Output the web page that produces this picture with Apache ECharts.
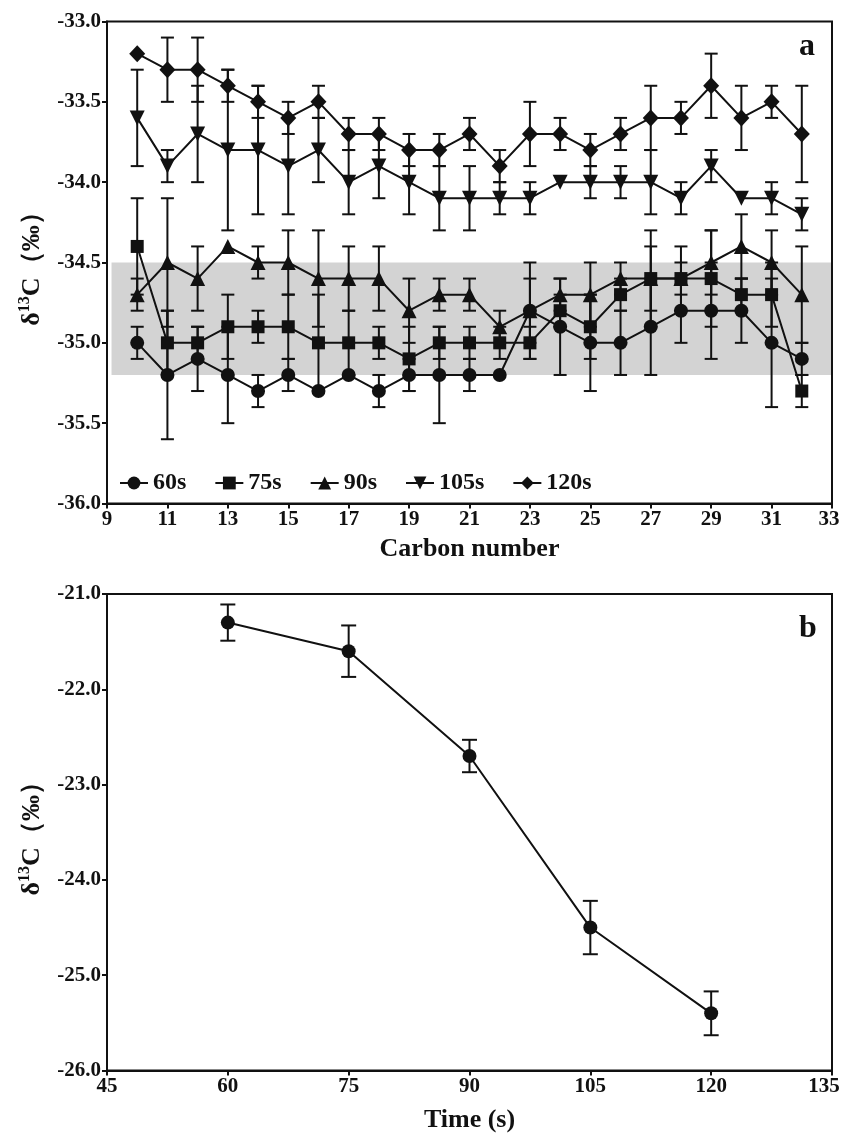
<!DOCTYPE html>
<html><head><meta charset="utf-8">
<script src="https://cdn.jsdelivr.net/npm/echarts@6/dist/echarts.min.js"></script>
<style>html,body{margin:0;padding:0;background:#fff}#c{width:842px;height:1136px}</style>
</head><body><div id="c"></div>
<script>
// ---------- Data: panel a ----------
const carbon = [10,11,12,13,14,15,16,17,18,19,20,21,22,23,24,25,26,27,28,29,30,31,32];
const v60  = [-35.0,-35.2,-35.1,-35.2,-35.3,-35.2,-35.3,-35.2,-35.3,-35.2,-35.2,-35.2,-35.2,-34.8,-34.9,-35.0,-35.0,-34.9,-34.8,-34.8,-34.8,-35.0,-35.1];
const e60  = [0.1,0.4,0.2,0.3,0.1,0.1,0,0,0.1,0.1,0.3,0.1,0,0.3,0.3,0.3,0.2,0.3,0.2,0.3,0.2,0.4,0.1];
const v75  = [-34.4,-35.0,-35.0,-34.9,-34.9,-34.9,-35.0,-35.0,-35.0,-35.1,-35.0,-35.0,-35.0,-35.0,-34.8,-34.9,-34.7,-34.6,-34.6,-34.6,-34.7,-34.7,-35.3];
const e75  = [0.3,0.2,0.1,0.2,0.1,0.2,0.3,0.2,0.1,0.2,0.1,0.1,0.1,0.1,0.1,0.2,0.1,0.3,0.1,0.3,0.1,0.2,0.1];
const v90  = [-34.7,-34.5,-34.6,-34.4,-34.5,-34.5,-34.6,-34.6,-34.6,-34.8,-34.7,-34.7,-34.9,-34.8,-34.7,-34.7,-34.6,-34.6,-34.6,-34.5,-34.4,-34.5,-34.7];
const e90  = [0.1,0.4,0.2,0,0.1,0.2,0.3,0.2,0.2,0.2,0.1,0.1,0.1,0.2,0.1,0.2,0.1,0.2,0.2,0.2,0.2,0.2,0.3];
const v105 = [-33.6,-33.9,-33.7,-33.8,-33.8,-33.9,-33.8,-34.0,-33.9,-34.0,-34.1,-34.1,-34.1,-34.1,-34.0,-34.0,-34.0,-34.0,-34.1,-33.9,-34.1,-34.1,-34.2];
const e105 = [0.3,0.1,0.3,0.5,0.4,0.3,0.2,0.2,0.2,0.2,0.2,0.2,0.1,0.1,0,0.1,0.1,0.2,0.1,0.1,0,0.1,0.1];
const v120 = [-33.2,-33.3,-33.3,-33.4,-33.5,-33.6,-33.5,-33.7,-33.7,-33.8,-33.8,-33.7,-33.9,-33.7,-33.7,-33.8,-33.7,-33.6,-33.6,-33.4,-33.6,-33.5,-33.7];
const e120 = [0,0.2,0.2,0.1,0.1,0.1,0.1,0.1,0.1,0.1,0.1,0.1,0.1,0.2,0.1,0.1,0.1,0.2,0.1,0.2,0.2,0.1,0.3];
const seriesNames = ['60s','75s','90s','105s','120s'];
const bandRange = [-34.5, -35.2];
// ---------- Data: panel b ----------
const times = [60,75,90,105,120];
const vTime = [-21.3,-21.6,-22.7,-24.5,-25.4];
const eTime = [0.19,0.27,0.17,0.28,0.23];

const FONT = '"Liberation Serif", "Times New Roman", serif';
const INK = '#111';

function pts(xs, vs){ return xs.map((x,i)=>[x, vs[i]]); }
function errs(xs, vs, es){ return xs.map((x,i)=>[x, vs[i]-es[i], vs[i]+es[i]]); }
function errRender(capW){
  return function(params, api){
    const x = api.value(0), lo = api.value(1), hi = api.value(2);
    if (hi - lo < 1e-9) return null;
    const a = api.coord([x, hi]), b = api.coord([x, lo]);
    const st = {stroke: INK, lineWidth: 2};
    return {type:'group', children:[
      {type:'line', shape:{x1:a[0],y1:a[1],x2:b[0],y2:b[1]}, style:st},
      {type:'line', shape:{x1:a[0]-capW/2,y1:a[1],x2:a[0]+capW/2,y2:a[1]}, style:st},
      {type:'line', shape:{x1:b[0]-capW/2,y1:b[1],x2:b[0]+capW/2,y2:b[1]}, style:st}
    ]};
  };
}

const labelBase = {color:INK, fontFamily:FONT, fontWeight:'bold', fontSize:21, margin:6};
const axisCommon = {
  axisLine:{show:true, lineStyle:{color:INK, width:2}},
  axisTick:{show:true, inside:false, length:5, lineStyle:{color:INK, width:2}},
  axisLabel:labelBase,
  splitLine:{show:false},
  z:5
};
function xLabel(maxV, shift){
  return Object.assign({}, labelBase, {
    formatter: v => (v === maxV ? '{m|' + v + '}' : String(v)),
    rich:{m:{fontFamily:FONT, fontWeight:'bold', fontSize:21, color:INK, padding:[0,shift,0,0]}}
  });
}
const yName = '{d|δ}{s|13}{d|C（‰）}';
const yNameStyle = {
  rich:{
    d:{fontFamily:FONT, fontWeight:'bold', fontSize:26, color:INK},
    s:{fontFamily:FONT, fontWeight:'bold', fontSize:16, color:INK, padding:[0,0,14,0]}
  }
};

const symbols = [
  {symbol:'circle', size:14, rotate:0},
  {symbol:'rect', size:13, rotate:0},
  {symbol:'triangle', size:15, rotate:0},
  {symbol:'triangle', size:15, rotate:180},
  {symbol:'diamond', size:[16,17], rotate:0}
];
const vals = [v60, v75, v90, v105, v120];
const errsA = [e60, e75, e90, e105, e120];

const series = [];
// shaded band
series.push({
  type:'line', xAxisIndex:0, yAxisIndex:0, data:[], silent:true, z:1,
  markArea:{silent:true, itemStyle:{color:'#d3d3d3'},
    data:[[{xAxis:9.15, yAxis:bandRange[0]},{xAxis:33, yAxis:bandRange[1]}]]}
});
vals.forEach((v,i)=>{
  series.push({
    type:'custom', xAxisIndex:0, yAxisIndex:0, z:3, silent:true,
    renderItem: errRender(13), encode:{x:0, y:[1,2]},
    data: errs(carbon, v, errsA[i])
  });
});
vals.forEach((v,i)=>{
  series.push({
    name: seriesNames[i], type:'line', xAxisIndex:0, yAxisIndex:0, z:4,
    data: pts(carbon, v),
    symbol: symbols[i].symbol, symbolSize: symbols[i].size, symbolRotate: symbols[i].rotate,
    showAllSymbol:true,
    lineStyle:{color:INK, width:2}, itemStyle:{color:INK},
    emphasis:{disabled:true}
  });
});
// panel b
series.push({
  type:'custom', xAxisIndex:1, yAxisIndex:1, z:3, silent:true,
  renderItem: errRender(15), encode:{x:0, y:[1,2]},
  data: errs(times, vTime, eTime)
});
series.push({
  name:'b', type:'line', xAxisIndex:1, yAxisIndex:1, z:4,
  data: pts(times, vTime), symbol:'circle', symbolSize:14,
  lineStyle:{color:INK, width:2}, itemStyle:{color:INK},
  emphasis:{disabled:true}
});

const option = {
  animation:false,
  backgroundColor:'#fff',
  grid:[
    {left:107, top:21.5, width:725, height:482, show:true, borderColor:INK, borderWidth:2, backgroundColor:'transparent', z:6, containLabel:false, outerBoundsMode:'none'},
    {left:107, top:594, width:725, height:476.5, show:true, borderColor:INK, borderWidth:2, backgroundColor:'transparent', z:6, containLabel:false, outerBoundsMode:'none'}
  ],
  xAxis:[
    Object.assign({}, axisCommon, {type:'value', gridIndex:0, min:9, max:33, interval:2,
      axisLabel: xLabel(33, 6),
      name:'Carbon number', nameLocation:'middle', nameGap:33,
      nameTextStyle:{fontFamily:FONT, fontWeight:'bold', fontSize:26, color:INK}}),
    Object.assign({}, axisCommon, {type:'value', gridIndex:1, min:45, max:135, interval:15,
      axisLabel: xLabel(135, 16),
      name:'Time (s)', nameLocation:'middle', nameGap:37,
      nameTextStyle:{fontFamily:FONT, fontWeight:'bold', fontSize:26, color:INK}})
  ],
  yAxis:[
    Object.assign({}, axisCommon, {type:'value', gridIndex:0, min:-36, max:-33, interval:0.5,
      axisLabel:Object.assign({}, labelBase, {formatter:v=>v.toFixed(1)}),
      name:yName, nameLocation:'middle', nameGap:60, nameTextStyle:yNameStyle}),
    Object.assign({}, axisCommon, {type:'value', gridIndex:1, min:-26, max:-21, interval:1,
      axisLabel:Object.assign({}, labelBase, {formatter:v=>v.toFixed(1)}),
      name:yName, nameLocation:'middle', nameGap:60, nameTextStyle:yNameStyle})
  ],
  legend:{
    data:seriesNames, left:114, top:466, orient:'horizontal',
    itemWidth:28, itemHeight:16, itemGap:28,
    textStyle:{fontFamily:FONT, fontWeight:'bold', fontSize:24, color:INK},
    selectedMode:false
  },
  graphic:[
    {type:'text', left:799, top:31, style:{text:'a', font:'bold 32px "Liberation Serif"', fill:INK}},
    {type:'text', left:799, top:613, style:{text:'b', font:'bold 32px "Liberation Serif"', fill:INK}}
  ],
  series: series
};
const chart = echarts.init(document.getElementById('c'), null, {renderer:'canvas'});
chart.setOption(option);
</script>
</body></html>
